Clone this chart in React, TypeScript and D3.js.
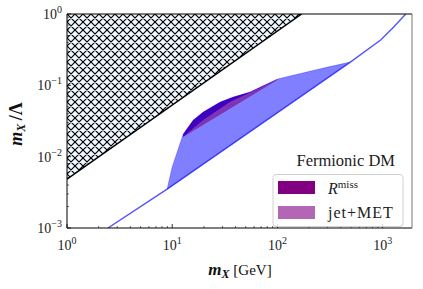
import React from "react";
import * as d3 from "d3";

// ---- data ----
const xDomain = [1, 1900];
const yDomain = [1e-3, 1];
const xTickExps = [0, 1, 2, 3];
const yTickExps = [-3, -2, -1, 0];

const hatchX = [1, 170];
const hatchY = [0.00485, 1];

const blueLowerX = [2.45, 8.94, 493];
const blueLowerY = [0.001, 0.0035, 0.212];
const blueUpperX = [8.94, 9.98, 12.7, 15.8, 19.7, 28.6, 38, 55, 100, 300, 493];
const blueUpperY = [0.0035, 0.00713, 0.0207, 0.0325, 0.0422, 0.0582, 0.0684, 0.0804, 0.1224, 0.18, 0.212];
const tailX = [493, 957, 1274, 1656];
const tailY = [0.212, 0.432, 0.657, 1];

const rmissTopX = [12.7, 15.8, 19.7, 28.6, 38, 55, 100];
const rmissTopY = [0.0207, 0.0325, 0.0422, 0.0582, 0.0684, 0.0804, 0.1224];
const jetTopX = [12.7, 19.7, 35.6, 68.6, 100];
const jetTopY = [0.0188, 0.0325, 0.0582, 0.0915, 0.1224];
const jetLowX = [12.7, 30, 100];
const jetLowY = [0.0188, 0.0405, 0.1185];

const legendTitle = "Fermionic DM";
const legendLabels = ["R", "jet+MET"];

const L = 67, R = 412, T = 14, B = 228;
const serif = "'Liberation Serif', 'DejaVu Serif', serif";

export default function App() {
  const x = d3.scaleLog().domain(xDomain).range([L, R]);
  const y = d3.scaleLog().domain(yDomain).range([B, T]);
  const line = d3.line<[number, number]>().x((d) => x(d[0])).y((d) => y(d[1]));
  const zip = (a: number[], b: number[]) => a.map((v, i) => [v, b[i]] as [number, number]);

  const hatchPts = [[1, 1] as [number, number], ...zip(hatchX, hatchY)];
  const bluePoly = [...zip(blueLowerX, blueLowerY).slice(1), ...zip(blueUpperX, blueUpperY).reverse()];
  const rmissPoly = [...zip(rmissTopX, rmissTopY), ...zip(jetTopX, jetTopY).reverse()];
  const jetPoly = [...zip(jetTopX, jetTopY), ...zip(jetLowX, jetLowY).reverse()];
  const lowerLine = [...zip(blueLowerX, blueLowerY), ...zip(tailX, tailY).slice(1)];

  const xMinor: number[] = [];
  for (let e = 0; e <= 3; e++) for (let k = 2; k <= 9; k++) { const v = k * 10 ** e; if (v <= xDomain[1]) xMinor.push(v); }
  const yMinor: number[] = [];
  for (let e = -3; e < 0; e++) for (let k = 2; k <= 9; k++) yMinor.push(k * 10 ** e);

  const hs = 8;
  return (
    <svg width={423} height={289} style={{ position: "absolute", left: 0, top: 0 }}>
      <defs>
        <clipPath id="plot"><rect x={L} y={T} width={R - L} height={B - T} /></clipPath>
        <pattern id="hatch" patternUnits="userSpaceOnUse" width={hs} height={hs} x={L} y={T}>
          <rect width={hs} height={hs} fill="#eef6ff" />
          <path d={`M0,0L${hs},${hs}M${hs},0L0,${hs}M-1,1L1,-1M${hs - 1},${hs + 1}L${hs + 1},${hs - 1}M-1,${hs - 1}L1,${hs + 1}M${hs - 1},-1L${hs + 1},1`} stroke="#000" strokeWidth={1.15} />
        </pattern>
      </defs>
      <rect width={423} height={289} fill="#fff" />
      <g clipPath="url(#plot)">
        <path d={line(hatchPts) + "Z"} fill="url(#hatch)" />
        <path d={line(zip(hatchX, hatchY)) || ""} stroke="#000" strokeWidth={1.5} fill="none" />
        <path d={line(rmissPoly) + "Z"} fill="#800080" />
        <path d={line(bluePoly) + "Z"} fill="rgba(0,0,255,0.5)" stroke="rgba(0,0,255,0.35)" strokeWidth={0.8} />
        <path d={line(jetPoly) + "Z"} fill="rgba(128,0,128,0.6)" />
        <path d={line(lowerLine) || ""} stroke="rgba(40,40,255,0.8)" strokeWidth={1.4} fill="none" />
      </g>
      {/* ticks */}
      {xTickExps.map((e) => (
        <line key={"xt" + e} x1={x(10 ** e)} x2={x(10 ** e)} y1={B} y2={B - 4} stroke="#000" strokeWidth={0.8} />
      ))}
      {xMinor.map((v) => (
        <line key={"xm" + v} x1={x(v)} x2={x(v)} y1={B} y2={B - 2} stroke="#000" strokeWidth={0.6} />
      ))}
      {yTickExps.map((e) => (
        <line key={"yt" + e} x1={L} x2={L + 4} y1={y(10 ** e)} y2={y(10 ** e)} stroke="#000" strokeWidth={0.8} />
      ))}
      {yMinor.map((v) => (
        <line key={"ym" + v} x1={L} x2={L + 2} y1={y(v)} y2={y(v)} stroke="#000" strokeWidth={0.6} />
      ))}
      {/* spines */}
      <line x1={L} x2={R} y1={T} y2={T} stroke="#000" strokeWidth={1} />
      <line x1={L} x2={L} y1={T} y2={B} stroke="#000" strokeWidth={1} />
      <line x1={L} x2={R} y1={B} y2={B} stroke="#000" strokeWidth={1} />
      <line x1={R} x2={R} y1={T} y2={B} stroke="#777" strokeWidth={1} />
      {/* tick labels */}
      {xTickExps.map((e) => (
        <text key={"xl" + e} x={x(10 ** e)} y={250} textAnchor="middle" fontFamily={serif} fontSize={14} fill="#222">
          10<tspan dy={-6} fontSize={10}>{e}</tspan>
        </text>
      ))}
      {yTickExps.map((e) => (
        <text key={"yl" + e} x={L - 5} y={y(10 ** e) + 5} textAnchor="end" fontFamily={serif} fontSize={14} fill="#222">
          10<tspan dy={-6} fontSize={10}>{e === 0 ? "0" : "\u2212" + -e}</tspan>
        </text>
      ))}
      {/* axis labels */}
      <text x={240} y={275} textAnchor="middle" fontFamily={serif} fontSize={17} fill="#111">
        <tspan fontWeight="bold" fontStyle="italic">m</tspan>
        <tspan fontWeight="bold" fontStyle="italic" fontSize={12} dy={3}>X</tspan>
        <tspan dy={-3} fontSize={15}> [GeV]</tspan>
      </text>
      <text transform="translate(22,124) rotate(-90)" textAnchor="middle" fontFamily={serif} fontSize={18} fill="#111">
        <tspan fontWeight="bold" fontStyle="italic">m</tspan>
        <tspan fontWeight="bold" fontStyle="italic" fontSize={12} dy={3}>X</tspan>
        <tspan dy={-3} fontWeight="bold">{"\u2009/\u039B"}</tspan>
      </text>
      {/* legend */}
      <text x={395} y={166} textAnchor="end" fontFamily={serif} fontSize={16.5} fill="#222">{legendTitle}</text>
      <rect x={273} y={174.5} width={130} height={52} rx={3} fill="rgba(255,255,255,0.8)" stroke="#d0d0d0" strokeWidth={1} />
      <rect x={278} y={181} width={37} height={13} fill="#800080" />
      <rect x={278} y={206} width={37} height={13} fill="rgba(128,0,128,0.6)" />
      <text x={328} y={194} fontFamily={serif} fontSize={16} fill="#222">
        <tspan fontStyle="italic">{legendLabels[0]}</tspan>
        <tspan dy={-6} fontSize={11}>miss</tspan>
      </text>
      <text x={328} y={218} fontFamily={serif} fontSize={16} letterSpacing={1} fill="#222">{legendLabels[1]}</text>
    </svg>
  );
}
